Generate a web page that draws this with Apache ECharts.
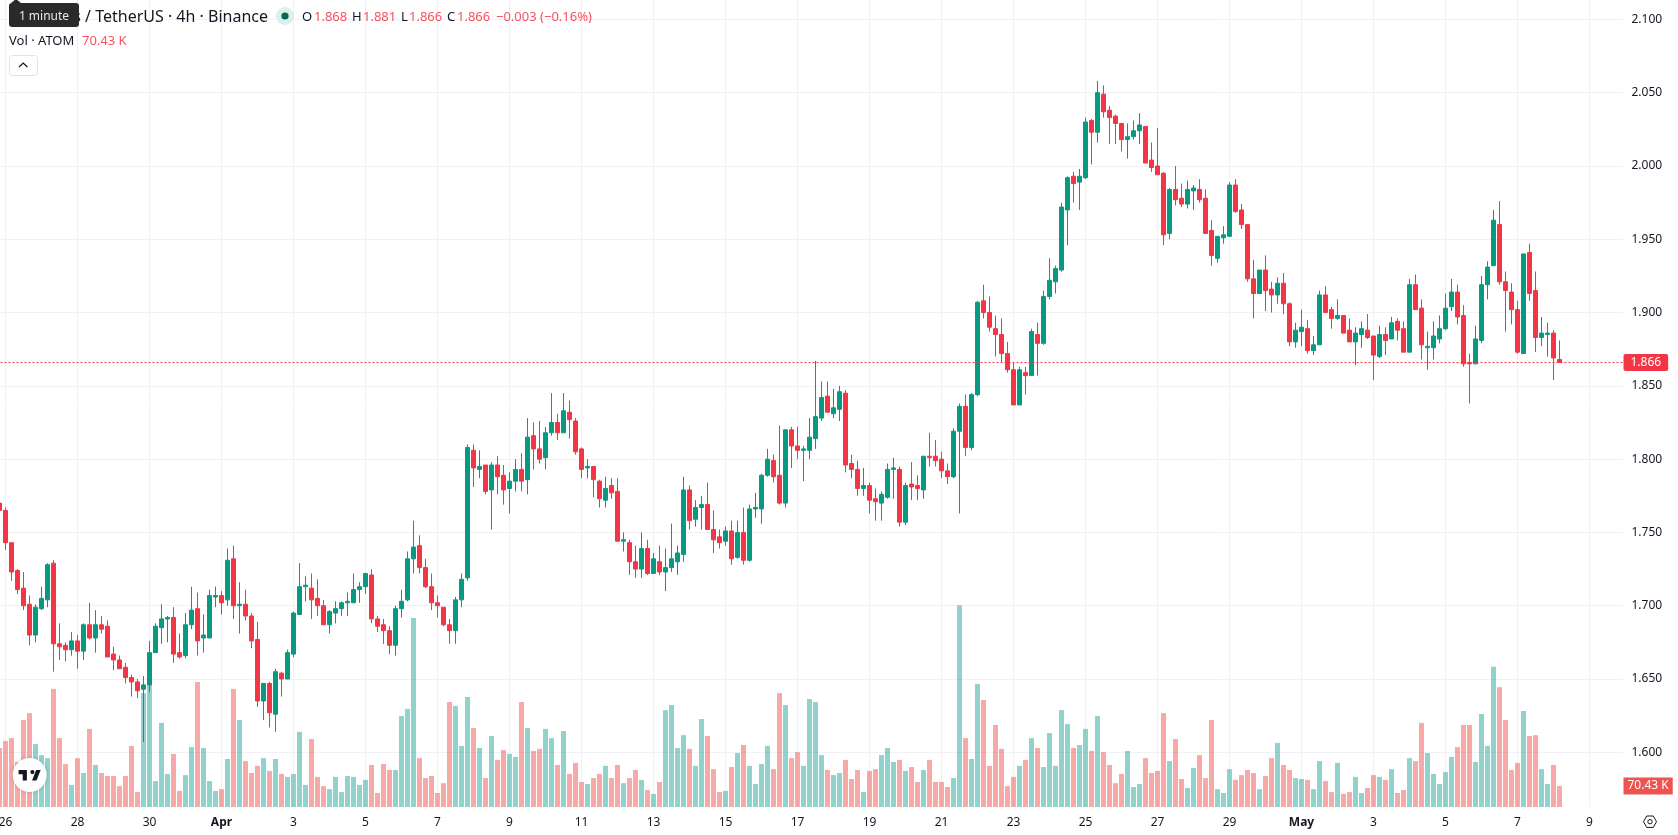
<!DOCTYPE html>
<html>
<head>
<meta charset="utf-8">
<title>ATOM / TetherUS 4h</title>
<script src="https://cdn.jsdelivr.net/npm/echarts@6/dist/echarts.min.js"></script>
<style>
html,body{margin:0;padding:0;background:#fff}
#chart{width:1678px;height:835px}
</style>
</head>
<body>
<div id="chart"></div>
<script>
// 4h candles, oldest first. The first slot is the last candle of 25 March, then six per day.
const opens = [
1.770,1.765,1.743,1.724,1.712,1.701,1.680,1.698,1.704,1.729,
1.674,1.673,1.670,1.676,1.669,1.687,1.678,1.687,1.686,1.667,
1.663,1.658,1.651,1.648,1.643,1.646,1.668,1.685,1.691,1.692,
1.668,1.666,1.687,1.698,1.678,1.678,1.706,1.707,1.704,1.732,
1.700,1.701,1.693,1.677,1.635,1.647,1.626,1.654,1.650,1.667,
1.694,1.713,1.712,1.705,1.700,1.687,1.695,1.698,1.702,1.702,
1.711,1.713,1.721,1.691,1.687,1.683,1.673,1.698,1.704,1.732,
1.741,1.726,1.713,1.702,1.699,1.687,1.683,1.704,1.719,1.806,
1.793,1.796,1.779,1.796,1.789,1.780,1.785,1.793,1.786,1.816,
1.807,1.801,1.818,1.825,1.818,1.832,1.826,1.807,1.794,1.795,
1.785,1.772,1.782,1.778,1.744,1.743,1.730,1.725,1.739,1.722,
1.730,1.723,1.726,1.730,1.735,1.779,1.759,1.767,1.769,1.752,
1.747,1.744,1.751,1.733,1.750,1.731,1.766,1.766,1.789,1.799,
1.789,1.770,1.820,1.809,1.806,1.806,1.814,1.828,1.843,1.831,
1.834,1.845,1.797,1.793,1.780,1.782,1.773,1.770,1.774,1.793,
1.793,1.757,1.783,1.782,1.779,1.802,1.802,1.800,1.792,1.788,
1.819,1.836,1.808,1.844,1.908,1.900,1.889,1.885,1.872,1.861,
1.837,1.859,1.857,1.885,1.879,1.911,1.921,1.929,1.970,1.993,
1.989,1.992,2.031,2.023,2.049,2.038,2.034,2.029,2.018,2.020,
2.024,2.027,2.004,2.000,1.995,1.954,1.984,1.978,1.974,1.983,
1.984,1.978,1.956,1.937,1.951,1.952,1.987,1.970,1.960,1.923,
1.913,1.929,1.916,1.912,1.920,1.906,1.880,1.887,1.889,1.874,
1.878,1.912,1.902,1.896,1.898,1.888,1.880,1.885,1.888,1.884,
1.870,1.885,1.882,1.894,1.889,1.873,1.919,1.903,1.876,1.876,
1.882,1.889,1.904,1.914,1.898,1.866,1.865,1.881,1.919,1.932,
1.960,1.921,1.914,1.902,1.872,1.941,1.915,1.883,1.885,1.886,
1.868];

const closes = [
1.765,1.743,1.723,1.711,1.700,1.680,1.699,1.705,1.728,1.674,
1.672,1.670,1.676,1.669,1.687,1.678,1.687,1.684,1.665,1.663,
1.657,1.651,1.648,1.642,1.646,1.668,1.686,1.691,1.692,1.667,
1.665,1.687,1.697,1.676,1.680,1.707,1.707,1.702,1.731,1.700,
1.701,1.693,1.676,1.635,1.647,1.627,1.655,1.650,1.668,1.695,
1.713,1.714,1.704,1.700,1.687,1.696,1.698,1.702,1.703,1.711,
1.713,1.722,1.691,1.686,1.683,1.673,1.698,1.703,1.732,1.740,
1.726,1.713,1.702,1.700,1.687,1.683,1.704,1.718,1.808,1.794,
1.795,1.778,1.796,1.788,1.779,1.785,1.793,1.785,1.815,1.807,
1.800,1.818,1.825,1.818,1.833,1.827,1.805,1.793,1.795,1.786,
1.773,1.780,1.777,1.744,1.745,1.730,1.725,1.739,1.722,1.732,
1.723,1.726,1.732,1.736,1.779,1.758,1.767,1.769,1.752,1.745,
1.743,1.751,1.732,1.750,1.731,1.766,1.767,1.789,1.800,1.788,
1.770,1.820,1.809,1.806,1.807,1.815,1.829,1.842,1.832,1.835,
1.846,1.796,1.793,1.780,1.782,1.772,1.771,1.776,1.793,1.794,
1.757,1.782,1.781,1.780,1.802,1.801,1.799,1.792,1.788,1.819,
1.836,1.808,1.844,1.907,1.900,1.890,1.885,1.872,1.861,1.837,
1.861,1.857,1.887,1.879,1.911,1.922,1.930,1.972,1.992,1.988,
1.993,2.030,2.023,2.050,2.037,2.033,2.029,2.018,2.020,2.024,
2.028,2.002,1.999,1.994,1.953,1.984,1.977,1.974,1.984,1.985,
1.977,1.954,1.939,1.952,1.953,1.987,1.969,1.960,1.923,1.913,
1.929,1.915,1.912,1.920,1.906,1.880,1.888,1.890,1.874,1.878,
1.912,1.900,1.896,1.898,1.886,1.880,1.886,1.889,1.883,1.871,
1.885,1.881,1.893,1.888,1.873,1.919,1.902,1.878,1.877,1.884,
1.889,1.903,1.914,1.897,1.865,1.865,1.882,1.919,1.931,1.963,
1.921,1.915,1.902,1.873,1.940,1.913,1.883,1.886,1.886,1.869,
1.866];

const highs = [
1.770,1.767,1.743,1.725,1.723,1.707,1.701,1.713,1.729,1.731,
1.688,1.675,1.682,1.680,1.688,1.702,1.697,1.693,1.690,1.672,
1.666,1.661,1.653,1.650,1.652,1.676,1.688,1.701,1.693,1.699,
1.681,1.695,1.713,1.709,1.694,1.711,1.713,1.710,1.739,1.741,
1.716,1.711,1.695,1.689,1.647,1.648,1.657,1.655,1.670,1.696,
1.729,1.720,1.722,1.718,1.704,1.697,1.703,1.703,1.709,1.722,
1.716,1.722,1.725,1.693,1.691,1.686,1.700,1.711,1.737,1.758,
1.748,1.732,1.722,1.707,1.699,1.691,1.706,1.722,1.810,1.810,
1.806,1.796,1.798,1.802,1.796,1.791,1.800,1.804,1.828,1.825,
1.826,1.822,1.845,1.831,1.845,1.840,1.828,1.808,1.800,1.795,
1.786,1.788,1.787,1.787,1.750,1.745,1.741,1.750,1.745,1.736,
1.741,1.739,1.756,1.741,1.788,1.782,1.772,1.775,1.784,1.765,
1.752,1.754,1.758,1.758,1.767,1.769,1.777,1.790,1.807,1.803,
1.823,1.820,1.822,1.822,1.809,1.828,1.867,1.853,1.853,1.848,
1.850,1.847,1.803,1.799,1.794,1.784,1.780,1.778,1.797,1.801,
1.795,1.784,1.798,1.789,1.802,1.818,1.813,1.805,1.797,1.821,
1.838,1.844,1.845,1.908,1.919,1.911,1.898,1.896,1.880,1.866,
1.863,1.863,1.889,1.893,1.915,1.937,1.932,1.975,1.993,1.996,
1.998,2.033,2.032,2.058,2.055,2.041,2.035,2.029,2.029,2.031,
2.036,2.027,2.016,2.026,1.996,1.985,2.000,1.988,1.990,1.987,
1.991,1.984,1.963,1.952,1.959,1.989,1.991,1.974,1.960,1.936,
1.929,1.939,1.921,1.924,1.927,1.907,1.893,1.902,1.895,1.884,
1.915,1.918,1.904,1.909,1.898,1.896,1.890,1.894,1.899,1.884,
1.891,1.890,1.897,1.896,1.894,1.923,1.926,1.909,1.887,1.894,
1.898,1.913,1.923,1.919,1.905,1.872,1.891,1.925,1.935,1.970,
1.976,1.928,1.920,1.908,1.940,1.947,1.928,1.897,1.893,1.888,
1.881];

const lows = [
1.765,1.738,1.717,1.708,1.697,1.673,1.675,1.697,1.699,1.655,
1.663,1.662,1.666,1.657,1.663,1.677,1.668,1.681,1.665,1.656,
1.657,1.647,1.638,1.637,1.607,1.641,1.668,1.674,1.675,1.661,
1.664,1.664,1.684,1.666,1.668,1.678,1.699,1.694,1.700,1.691,
1.681,1.690,1.671,1.631,1.622,1.617,1.614,1.638,1.650,1.665,
1.694,1.703,1.691,1.693,1.687,1.681,1.688,1.693,1.693,1.702,
1.702,1.708,1.688,1.682,1.674,1.667,1.666,1.692,1.703,1.722,
1.722,1.712,1.697,1.692,1.686,1.674,1.674,1.699,1.717,1.781,
1.787,1.776,1.752,1.776,1.769,1.763,1.778,1.778,1.776,1.793,
1.797,1.793,1.816,1.813,1.818,1.814,1.803,1.787,1.787,1.774,
1.767,1.767,1.773,1.744,1.737,1.721,1.719,1.719,1.721,1.722,
1.721,1.710,1.723,1.721,1.730,1.752,1.754,1.752,1.752,1.736,
1.739,1.741,1.728,1.732,1.728,1.730,1.760,1.756,1.788,1.784,
1.769,1.767,1.794,1.800,1.785,1.800,1.807,1.826,1.832,1.828,
1.826,1.791,1.787,1.775,1.775,1.763,1.758,1.758,1.773,1.773,
1.754,1.755,1.772,1.772,1.773,1.795,1.795,1.787,1.783,1.787,
1.763,1.802,1.806,1.843,1.896,1.887,1.870,1.866,1.859,1.837,
1.837,1.844,1.857,1.857,1.878,1.909,1.913,1.928,1.946,1.975,
1.970,1.991,2.001,2.016,2.033,2.015,2.015,2.010,2.005,2.018,
2.015,2.002,1.996,1.994,1.946,1.950,1.973,1.972,1.971,1.970,
1.975,1.954,1.932,1.934,1.947,1.952,1.968,1.957,1.921,1.896,
1.913,1.901,1.900,1.906,1.899,1.877,1.876,1.877,1.872,1.871,
1.878,1.900,1.889,1.895,1.886,1.880,1.864,1.876,1.882,1.854,
1.869,1.871,1.882,1.881,1.873,1.873,1.902,1.868,1.861,1.868,
1.879,1.888,1.901,1.892,1.863,1.838,1.865,1.879,1.909,1.932,
1.919,1.887,1.892,1.872,1.872,1.908,1.873,1.877,1.870,1.854,
1.866];

// Traded volume per candle, in thousands of ATOM.
const volumes = [
198,221,231,151,292,315,211,174,164,396,
231,144,74,164,114,262,141,114,104,104,
70,104,205,50,382,413,87,282,111,178,
54,107,201,419,198,87,54,60,161,396,
292,154,114,138,164,121,161,111,101,111,
252,74,228,101,70,60,101,50,104,101,
74,91,141,47,144,124,124,305,329,634,
164,97,104,47,80,352,339,205,369,265,
198,97,238,158,191,178,168,352,265,188,
195,262,231,141,255,111,148,84,77,97,
111,138,97,141,80,97,124,91,57,44,
84,325,342,198,241,195,138,295,238,127,
50,54,134,181,208,138,77,144,205,127,
382,342,164,184,138,362,352,174,124,107,
114,158,94,124,50,121,127,174,198,151,
158,121,134,84,124,158,84,84,67,97,
677,231,161,413,359,138,275,195,70,101,
138,158,231,198,134,248,138,325,278,198,
208,262,188,305,184,141,80,111,188,67,
77,164,114,121,315,154,228,94,64,131,
174,97,292,60,47,127,91,107,124,114,
60,104,164,215,141,124,97,94,91,60,
154,87,50,148,44,50,101,47,64,107,
101,91,127,47,57,164,154,282,181,111,
77,117,168,201,275,275,151,312,205,470,
402,292,124,148,322,238,241,127,77,141,
70.43];

// Axis labels, one every two days (twelve candles apart).
const dayLabels = ['26','28','30','Apr','3','5','7','9','11','13','15','17','19','21','23','25','27','29','May','3','5','7','9'];
const boldLabels = ['Apr','May'];
const priceMin = 1.55, priceMax = 2.15, priceStep = 0.05;

const CANDLES_PER_TICK = 12;
const EMPTY_SLOTS_AFTER = 10;
const slotCount = opens.length + EMPTY_SLOTS_AFTER;
const categories = [];
for (let i = 0; i < slotCount; i++) {
  const k = i - 1;
  categories.push(k >= 0 && k % CANDLES_PER_TICK === 0 ? dayLabels[k / CANDLES_PER_TICK] : '');
}
const isTick = (i) => (i - 1) >= 0 && (i - 1) % CANDLES_PER_TICK === 0;

const UP = '#089981', DOWN = '#F23645', DOWN_TEXT = '#F7525F';
const UP_VOL = 'rgba(38,166,154,0.5)', DOWN_VOL = 'rgba(239,83,80,0.5)';
const INK = '#131722';
const FONT = '"Noto Sans", sans-serif';

const candleData = opens.map((o, i) => [o, closes[i], lows[i], highs[i]]);
const volumeData = volumes.map((v, i) => ({
  value: v,
  itemStyle: { color: closes[i] >= opens[i] ? UP_VOL : DOWN_VOL }
}));

const last = opens.length - 1;
const lastClose = closes[last];
const lastVolume = volumes[last];
const fmt = (v) => v.toFixed(3);
const change = closes[last] - closes[last - 1];
const changePct = change / closes[last - 1] * 100;
const minus = '\u2212';

const legendText = (text, x, y, fill, size, extra) => Object.assign({
  type: 'text', z: 50, x, y,
  style: Object.assign({ text, fill, font: `${size || 13}px ${FONT}`, textVerticalAlign: 'middle' }, extra || {})
});

// Mark of the exchange badge, placed by a small affine helper.
const mark = (x, y) => [17.2 + 0.69 * x, 765.9 + 0.69 * y];

const chart = echarts.init(document.getElementById('chart'), null, { renderer: 'canvas' });
chart.setOption({
  animation: false,
  backgroundColor: '#ffffff',
  textStyle: { fontFamily: FONT },
  grid: [
    { left: -3.5, width: 1626, top: -53.9, height: 879.5, outerBoundsMode: 'none' },
    { left: -3.5, width: 1626, top: 0, height: 807, outerBoundsMode: 'none' }
  ],
  xAxis: [
    { type: 'category', gridIndex: 0, data: categories, show: false },
    {
      type: 'category', gridIndex: 1, data: categories,
      axisLine: { show: false },
      axisTick: { show: false },
      splitLine: {
        show: true, alignWithLabel: true, interval: (i) => isTick(i),
        lineStyle: { color: '#f0f1f4', width: 1 }
      },
      axisLabel: {
        interval: (i) => isTick(i),
        margin: 10,
        color: INK, fontSize: 12, fontFamily: FONT,
        hideOverlap: false,
        formatter: (v) => boldLabels.includes(v) ? `{b|${v}}` : v,
        rich: { b: { fontWeight: 'bold', fontSize: 12, color: INK, fontFamily: FONT } }
      }
    }
  ],
  yAxis: [
    {
      type: 'value', gridIndex: 0, position: 'right',
      min: priceMin, max: priceMax, interval: priceStep,
      axisLine: { show: false }, axisTick: { show: false },
      splitLine: {
        show: true, showMinLine: false, showMaxLine: false,
        lineStyle: { color: '#f0f1f4', width: 1 }
      },
      axisLabel: {
        margin: 9, color: INK, fontSize: 12, fontFamily: FONT,
        showMinLabel: false, showMaxLabel: false,
        formatter: (v) => v.toFixed(3)
      }
    },
    {
      type: 'value', gridIndex: 1, min: 0, max: 2706.7,
      show: false, splitLine: { show: false }
    }
  ],
  series: [
    {
      name: 'Volume', type: 'bar', xAxisIndex: 1, yAxisIndex: 1, z: 1,
      barWidth: 5, data: volumeData,
      markLine: {
        silent: true, symbol: 'none', animation: false, precision: 2,
        lineStyle: { color: 'rgba(0,0,0,0)', width: 0 },
        label: {
          position: 'end', distance: 1, color: '#fff', fontSize: 12, fontFamily: FONT,
          backgroundColor: '#EF5350', padding: [3, 4, 2, 4], borderRadius: 0,
          formatter: () => lastVolume.toFixed(2) + ' K'
        },
        data: [{ yAxis: lastVolume }]
      }
    },
    {
      name: 'ATOM / TetherUS', type: 'candlestick', xAxisIndex: 0, yAxisIndex: 0, z: 3,
      barWidth: 4, data: candleData,
      itemStyle: { color: UP, color0: DOWN, borderColor: UP, borderColor0: DOWN, borderWidth: 1 },
      markLine: {
        silent: true, symbol: 'none', animation: false, precision: 3,
        lineStyle: { color: DOWN, type: [2, 2], width: 1.2, opacity: 1 },
        label: {
          position: 'end', distance: 1, color: '#fff', fontSize: 12, fontFamily: FONT,
          backgroundColor: DOWN, padding: [3, 7, 2, 7], borderRadius: 2,
          formatter: () => fmt(lastClose)
        },
        data: [{ yAxis: lastClose }]
      }
    }
  ],
  graphic: { elements: [
    legendText('Cosmos / TetherUS \u00b7 4h \u00b7 Binance', 268, 17, INK, 16, { textAlign: 'right' }),
    { type: 'circle', z: 50, shape: { cx: 285, cy: 16, r: 9 }, style: { fill: '#dbefeb' } },
    { type: 'circle', z: 51, shape: { cx: 285, cy: 16, r: 3.6 }, style: { fill: '#056656' } },
    legendText('O', 302, 17, INK),
    legendText(fmt(opens[last]), 314, 17, DOWN_TEXT),
    legendText('H', 352, 17, INK),
    legendText(fmt(highs[last]), 363, 17, DOWN_TEXT),
    legendText('L', 401, 17, INK),
    legendText(fmt(lows[last]), 409, 17, DOWN_TEXT),
    legendText('C', 447, 17, INK),
    legendText(fmt(closes[last]), 457, 17, DOWN_TEXT),
    legendText(`${minus}${Math.abs(change).toFixed(3)} (${minus}${Math.abs(changePct).toFixed(2)}%)`, 496, 17, DOWN_TEXT),
    legendText('Vol \u00b7 ATOM', 9, 41, INK),
    legendText(lastVolume.toFixed(2) + ' K', 82, 41, DOWN_TEXT),
    { type: 'rect', z: 50, shape: { x: 9.5, y: 55.5, width: 28, height: 20, r: 3 }, style: { fill: '#fff', stroke: '#e0e3eb', lineWidth: 1 } },
    { type: 'polyline', z: 51, shape: { points: [[19, 67], [23.2, 63], [27.4, 67]] }, style: { fill: 'none', stroke: INK, lineWidth: 1.2 } },
    // hint bubble sitting over the start of the title
    { type: 'rect', z: 60, shape: { x: 9, y: 3, width: 70, height: 24, r: 3 }, style: { fill: '#2a2a2c' } },
    { type: 'polygon', z: 60, shape: { points: [[11, 3], [16, -1], [21, 3]] }, style: { fill: '#2a2a2c' } },
    Object.assign(legendText('1 minute', 44, 16.5, '#e8e8e8', 12, { textAlign: 'center' }), { z: 61 }),
    // exchange badge, lower left
    { type: 'circle', z: 50, shape: { cx: 29.7, cy: 775, r: 17 }, style: { fill: '#fff', shadowBlur: 4, shadowColor: 'rgba(0,0,0,0.18)' } },
    { type: 'polygon', z: 51, shape: { points: [mark(2, 6), mark(14, 6), mark(14, 21), mark(8, 21), mark(8, 12), mark(2, 12)] }, style: { fill: INK } },
    { type: 'polygon', z: 51, shape: { points: [mark(27.5, 6), mark(34, 6), mark(28, 21), mark(21.5, 21)] }, style: { fill: INK } },
    { type: 'circle', z: 51, shape: { cx: mark(22, 9)[0], cy: mark(22, 9)[1], r: 2.07 }, style: { fill: INK } },
    // settings glyph, lower right
    { type: 'polygon', z: 50, shape: { points: [[1643.5, 821.7], [1646.7, 816], [1653.3, 816], [1656.5, 821.7], [1653.3, 827.4], [1646.7, 827.4]] }, style: { fill: 'none', stroke: INK, lineWidth: 1 } },
    { type: 'circle', z: 50, shape: { cx: 1650, cy: 821.7, r: 2.2 }, style: { fill: 'none', stroke: INK, lineWidth: 1 } }
  ] }
});
</script>
</body>
</html>
